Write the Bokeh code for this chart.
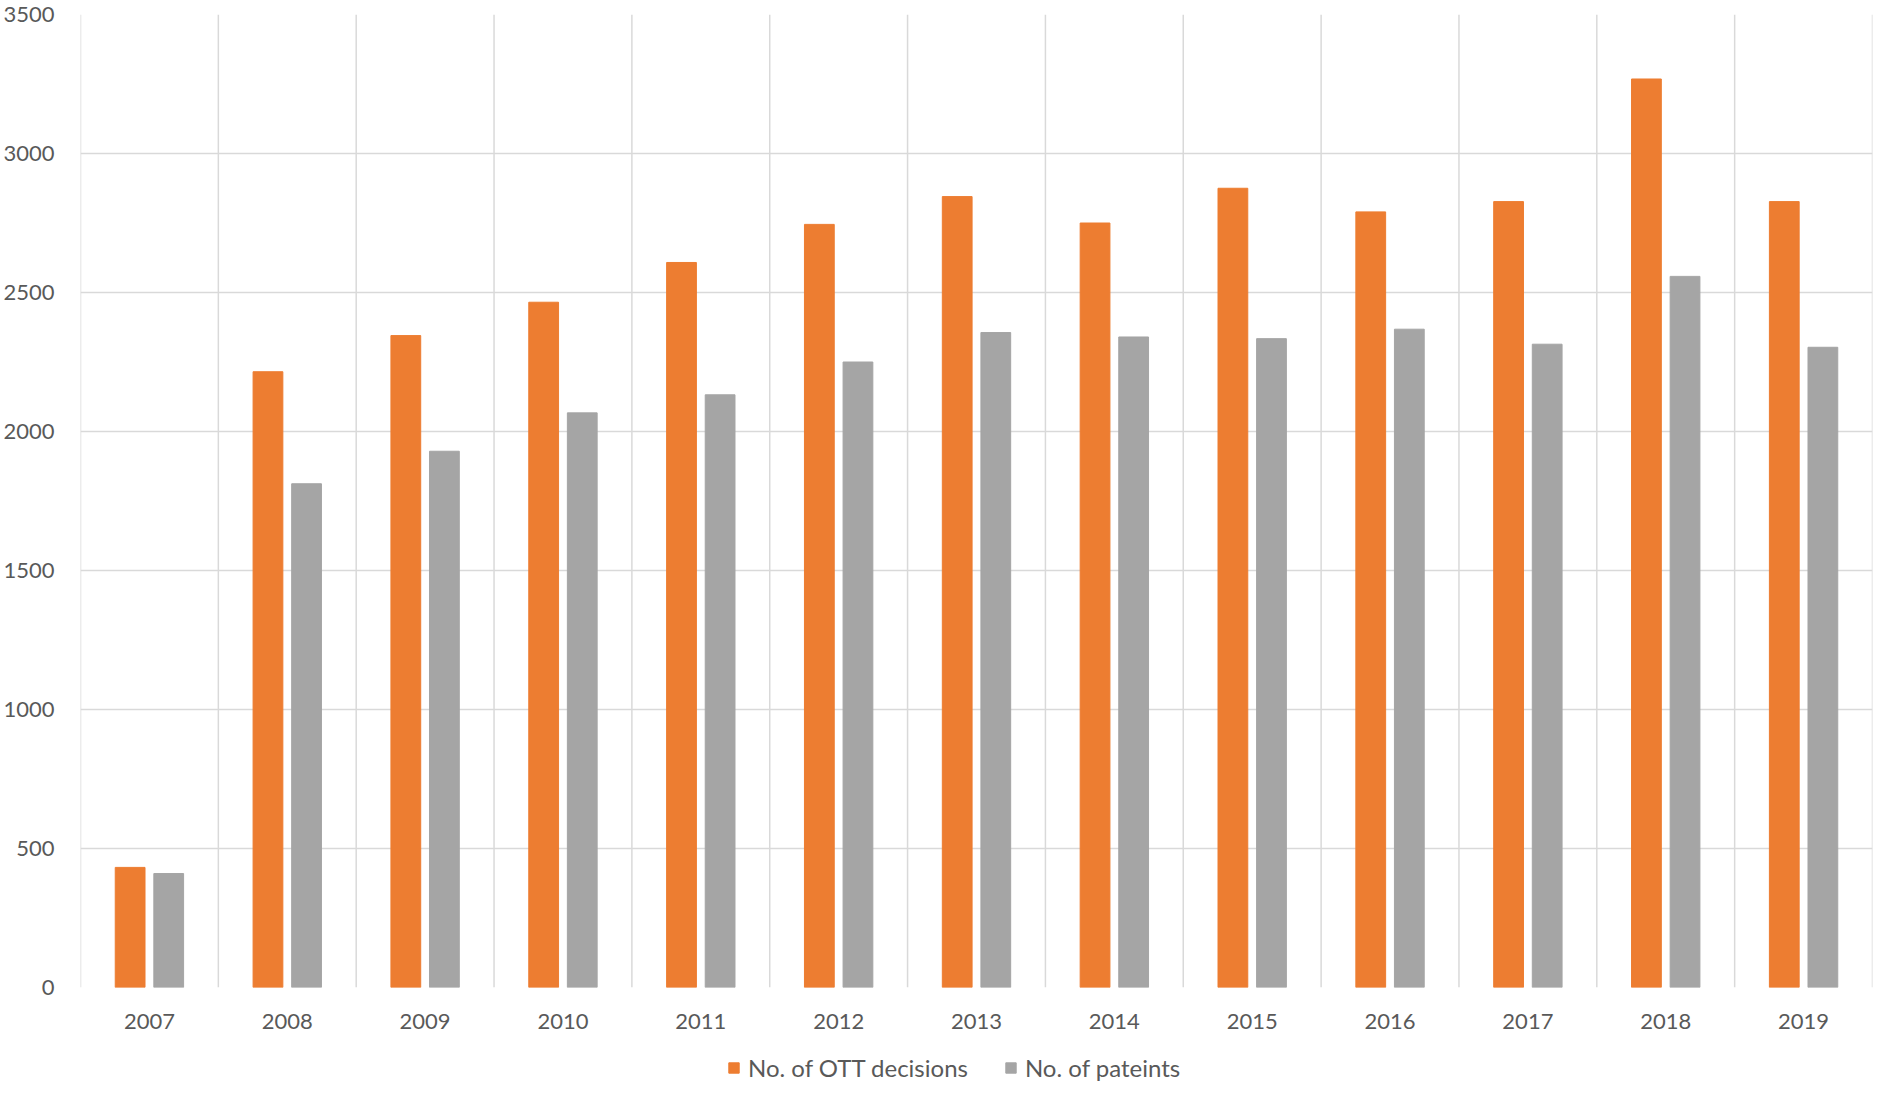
from bokeh.plotting import figure
from bokeh.layouts import column
from bokeh.models import FactorRange, Span, Legend, LegendItem, ColumnDataSource, FixedTicker
from bokeh.transform import dodge
from bokeh.embed import file_html
from bokeh.resources import INLINE

years = ["2007", "2008", "2009", "2010", "2011", "2012", "2013",
         "2014", "2015", "2016", "2017", "2018", "2019"]
ott_decisions = [432, 2215, 2345, 2465, 2608, 2745, 2845, 2750, 2875, 2790, 2827, 3268, 2827]
patients = [410, 1812, 1929, 2067, 2132, 2250, 2356, 2340, 2334, 2368, 2314, 2558, 2303]
y_ticks = [0, 500, 1000, 1500, 2000, 2500, 3000, 3500]
series_names = ["No. of OTT decisions", "No. of pateints"]

ORANGE = "#ED7D31"
GRAY = "#A5A5A5"
GRID = "#D9D9D9"
TEXT = "#595959"
FONT = "Lato"

src = ColumnDataSource(dict(year=years, ott=ott_decisions, pat=patients))

p = figure(
    x_range=FactorRange(*years, range_padding=0, factor_padding=0),
    y_range=(0, 3500),
    width=1874, height=1037,
    output_backend="svg", toolbar_location=None,
    min_border_left=73, min_border_right=2, min_border_top=14, min_border_bottom=50,
    outline_line_color=None, background_fill_color="white", border_fill_color="white",
)

p.vbar(x=dodge("year", -0.14, range=p.x_range), top="ott", width=0.216,
       source=src, fill_color=ORANGE, line_color=ORANGE)
p.vbar(x=dodge("year", 0.14, range=p.x_range), top="pat", width=0.216,
       source=src, fill_color=GRAY, line_color=GRAY)

# vertical grid lines at category boundaries
for i in range(len(years) + 1):
    p.add_layout(Span(location=i, dimension="height", line_color=GRID, line_width=1.5, level="underlay"))

p.xgrid.grid_line_color = None
p.ygrid.ticker = FixedTicker(ticks=y_ticks)
p.ygrid.grid_line_color = GRID
p.ygrid.grid_line_width = 1.5
p.ygrid.level = "underlay"

p.yaxis.ticker = FixedTicker(ticks=y_ticks)
for ax in (p.xaxis[0], p.yaxis[0]):
    ax.axis_line_color = None
    ax.major_tick_line_color = None
    ax.minor_tick_line_color = None
    ax.major_tick_out = 0
    ax.major_tick_in = 0
    ax.major_label_text_font = FONT
    ax.major_label_text_font_size = "22px"
    ax.major_label_text_color = TEXT
p.yaxis.major_label_standoff = 26
p.xaxis.major_label_standoff = 26

# legend strip below the chart (its keys are drawn off-range; only the legend shows)
lg = figure(width=1874, height=46, output_backend="svg", toolbar_location=None,
            x_axis_type=None, y_axis_type=None, x_range=(0, 1), y_range=(0, 1),
            min_border=0, outline_line_color=None, border_fill_color="white")
lg.xgrid.visible = False
lg.ygrid.visible = False
k1 = lg.vbar(x=-5, bottom=-5, top=-4, width=0.1, fill_color=ORANGE, line_color=ORANGE)
k2 = lg.vbar(x=-5, bottom=-5, top=-4, width=0.1, fill_color=GRAY, line_color=GRAY)
legend = Legend(
    items=[LegendItem(label=series_names[0], renderers=[k1]),
           LegendItem(label=series_names[1], renderers=[k2])],
    orientation="horizontal", location=(647, 1),
    border_line_color=None, background_fill_alpha=0,
    padding=0, margin=0, spacing=36,
    glyph_width=13, glyph_height=13, label_standoff=8,
    label_text_font=FONT, label_text_font_size="24px", label_text_color=TEXT,
)
lg.add_layout(legend, "center")

layout = column(p, lg, spacing=0)
open("out.html", "w").write(file_html(layout, INLINE))
